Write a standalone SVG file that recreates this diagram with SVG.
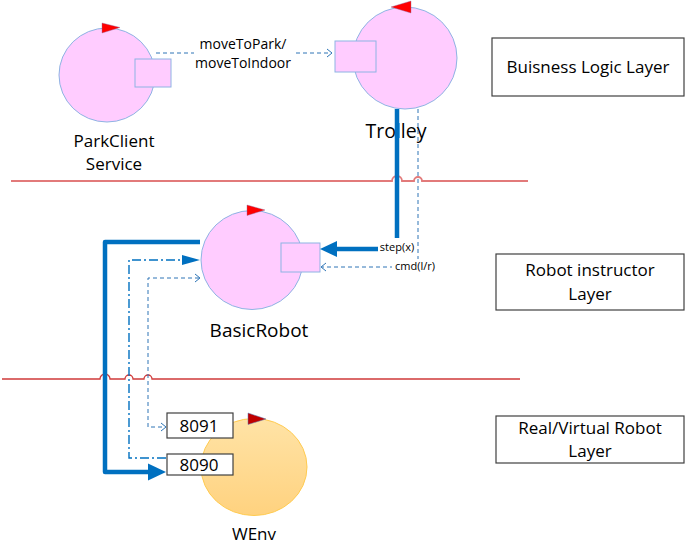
<svg xmlns="http://www.w3.org/2000/svg" width="686" height="557" viewBox="0 0 686 557">
<defs>
<style>
.node{fill:#FFCCFF;stroke:#8EB4E3;stroke-width:1}
.t{font-family:"Open Sans","Noto Sans","DejaVu Sans",sans-serif;fill:#000;text-anchor:middle}
.lay{fill:#fff;stroke:#404040;stroke-width:1.2}
.thick{fill:none;stroke:#0070C0;stroke-width:4.5;stroke-linejoin:round}
.dash{fill:none;stroke:#2E75B6;stroke-width:1;stroke-dasharray:4 3}
.dashdot{fill:none;stroke:#0070C0;stroke-width:1.4;stroke-dasharray:9 3 2 3}
.chev{fill:none;stroke:#2E75B6;stroke-width:1}
.head{fill:#0070C0}
.tri{fill:#FF0000;stroke:#8E6AA0;stroke-width:0.4}
</style>
<linearGradient id="og" x1="0" y1="0" x2="0" y2="1">
<stop offset="0" stop-color="#FFE3A6"/>
<stop offset="1" stop-color="#FFD27F"/>
</linearGradient>
</defs>
<rect width="686" height="557" fill="#fff"/>

<g id="layer-lines">
<path d="M11 181 H392 a5 5 0 0 1 10 0 H414 a4 4 0 0 1 8 0 H528" fill="none" stroke="#E27A7A" stroke-width="1.8"/>
<path d="M2 379 H100 a5 5 0 0 1 10 0 H125 a4 4 0 0 1 8 0 H144 a4 4 0 0 1 8 0 H520" fill="none" stroke="#D03A3A" stroke-width="1.3"/>
</g>

<g id="parkclient">
<ellipse class="node" cx="107" cy="75" rx="48" ry="47"/>
<rect class="node" x="135" y="59" width="36" height="28"/>
<polygon class="tri" points="102,23 120,27.5 102,33"/>
<text class="t" x="114" y="147" font-size="17">ParkClient</text>
<text class="t" x="114" y="170" font-size="17">Service</text>
</g>

<g id="trolley">
<ellipse class="node" cx="405" cy="58" rx="52" ry="51"/>
<rect class="node" x="335" y="41" width="41" height="31"/>
<polygon class="tri" points="411,1 391,7 411,13"/>
<text class="t" x="396" y="138" font-size="19.5">Trolley</text>
</g>

<g id="basicrobot">
<ellipse class="node" cx="252" cy="260" rx="51" ry="49.5"/>
<rect class="node" x="281" y="243" width="39" height="29"/>
<polygon class="tri" points="247,205 265,210 247,215.5"/>
<text class="t" x="259" y="337" font-size="19">BasicRobot</text>
</g>

<g id="wenv">
<ellipse cx="254" cy="467" rx="53" ry="48.5" fill="url(#og)" stroke="#FFCB50" stroke-width="1"/>
<polygon points="248,413 266,419 248,424.5" fill="#C00000" stroke="#5B7FB8" stroke-width="0.5"/>
<text class="t" x="254" y="540" font-size="17">WEnv</text>
</g>

<g id="port8091">
<rect x="167" y="413" width="66" height="25" fill="#fff" stroke="#404040" stroke-width="1.2"/>
<text class="t" x="199" y="432" font-size="17">8091</text>
</g>
<g id="port8090">
<rect x="167" y="454" width="66" height="21" fill="#fff" stroke="#404040" stroke-width="1.2"/>
<text class="t" x="199" y="471" font-size="17">8090</text>
</g>

<g id="layer-business">
<rect class="lay" x="492" y="38" width="192" height="58"/>
<text class="t" x="588" y="73" font-size="17">Buisness Logic Layer</text>
</g>
<g id="layer-instructor">
<rect class="lay" x="496" y="254" width="188" height="56"/>
<text class="t" x="590" y="276" font-size="17">Robot instructor</text>
<text class="t" x="590" y="300" font-size="17">Layer</text>
</g>
<g id="layer-robot">
<rect class="lay" x="496" y="416" width="188" height="47"/>
<text class="t" x="590" y="434" font-size="17">Real/Virtual Robot</text>
<text class="t" x="590" y="457" font-size="17">Layer</text>
</g>

<g id="connectors">
<!-- moveToPark / moveToIndoor -->
<path class="dash" d="M156 53 H331"/>
<polyline class="chev" points="327,49 332,53 327,57"/>
<rect x="194" y="36" width="100" height="37" fill="#fff"/>
<text class="t" x="243" y="49" font-size="14">moveToPark/</text>
<text class="t" x="243" y="68" font-size="14">moveToIndoor</text>

<!-- step(x) -->
<path class="thick" d="M397 109 V249 H336"/>
<polygon class="head" points="320,249 337,241 337,257"/>
<!-- cmd(l/r) -->
<path class="dash" d="M418 109 V267 H322"/>
<polyline class="chev" points="326,263 321,267 326,271"/>
<rect x="378" y="238" width="38" height="18" fill="#fff"/>
<text class="t" x="397" y="251" font-size="11">step(x)</text>
<rect x="392" y="259" width="46" height="15" fill="#fff"/>
<text class="t" x="415" y="270" font-size="11">cmd(l/r)</text>

<!-- BasicRobot to 8090 thick -->
<path class="thick" d="M200 242 H105 V472 H150"/>
<polygon class="head" points="166,472 148,463.5 148,480.5"/>
<!-- 8090 to BasicRobot dash-dot -->
<path class="dashdot" d="M166 458 H129 V260 H184"/>
<polygon class="head" points="200,260 182,255 182,265"/>
<!-- dashed 8091 <-> BasicRobot -->
<path class="dash" d="M199 278 H148 V427 H165"/>
<polyline class="chev" points="195,274 200,278 195,282"/>
<polyline class="chev" points="161,423 166,427 161,431"/>
</g>
</svg>
